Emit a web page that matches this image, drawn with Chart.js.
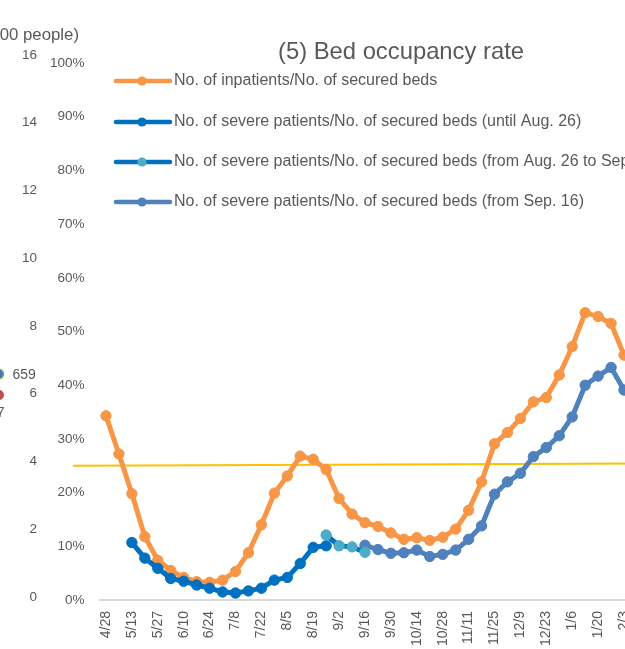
<!DOCTYPE html>
<html><head><meta charset="utf-8">
<script src="https://cdn.jsdelivr.net/npm/chart.js@4.4.1/dist/chart.umd.min.js"></script>
<style>
html,body{margin:0;padding:0;overflow:hidden;background:#fff;width:625px;height:649px}
#wrap{position:absolute;left:0;top:0;width:640px;height:649px}
</style>
</head><body><div id="wrap"><canvas id="c" width="640" height="649"></canvas></div>
<script>
// ---- data ----
const weeks = ['4/28','5/6','5/13','5/20','5/27','6/3','6/10','6/17','6/24','7/1','7/8','7/15','7/22','7/29','8/5','8/12','8/19','8/26','9/2','9/9','9/16','9/23','9/30','10/7','10/14','10/21','10/28','11/4','11/11','11/18','11/25','12/2','12/9','12/16','12/23','12/30','1/6','1/13','1/20','1/27','2/3'];

const inpatientsRate = [34.3,27.2,19.8,11.8,7.4,5.5,4.2,3.4,3.3,3.7,5.3,8.8,14.0,19.9,23.1,26.8,26.2,24.3,18.9,16.0,14.4,13.7,12.5,11.3,11.6,11.1,11.7,13.2,16.7,22.0,29.1,31.2,33.8,36.9,37.7,41.9,47.2,53.5,52.8,51.5,45.6];

const severeUntilAug26 = [null,null,10.7,7.8,5.9,4.0,3.5,2.8,2.2,1.5,1.3,1.7,2.2,3.7,4.2,6.8,9.8,10.1,
  null,null,null,null,null,null,null,null,null,null,null,null,null,null,null,null,null,null,null,null,null,null,null];

const severeAug26toSep16 = [null,null,null,null,null,null,null,null,null,null,null,null,null,null,null,null,null,
  12.1,10.1,9.9,8.9,
  null,null,null,null,null,null,null,null,null,null,null,null,null,null,null,null,null,null,null,null];

const severeFromSep16 = [null,null,null,null,null,null,null,null,null,null,null,null,null,null,null,null,null,null,null,null,
  10.2,9.4,8.7,8.8,9.3,8.1,8.5,9.3,11.3,13.8,19.7,22.0,23.6,26.7,28.4,30.6,34.1,40.0,41.7,43.3,39.1];

const seriesNames = [
  'No. of inpatients/No. of secured beds',
  'No. of severe patients/No. of secured beds (until Aug. 26)',
  'No. of severe patients/No. of secured beds (from Aug. 26 to Sep. 16)',
  'No. of severe patients/No. of secured beds (from Sep. 16)'
];
const pctTicks = [0,10,20,30,40,50,60,70,80,90,100];
const peopleTicks = [0,2,4,6,8,10,12,14,16];
const thresholdLine = [25.0, 25.4];   // % at left and right ends
const chartTitle = '(5) Bed occupancy rate';
const peopleAxisTitle = '(100 people)';
const sideLabels = ['659', '7'];

// ---- styles ----
const FONT = "'Liberation Sans', Arial, sans-serif";
const TXT = '#595959';
const C_ORANGE = '#F79646', C_DBLUE = '#0070C0', C_TEAL = '#4BACC6', C_STEEL = '#4F81BD';

function ds(label, data, line, pt, order){
  return {label, data, borderColor: line, backgroundColor: pt, pointBackgroundColor: pt,
    pointBorderColor: pt, borderWidth: 5, pointRadius: 5.2, pointBorderWidth: 1,
    pointHoverRadius: 5.2, tension: 0, spanGaps: false, yAxisID: 'yPct', order};
}

const decor = {
  id: 'decor',
  beforeDatasetsDraw(chart){
    const ctx = chart.ctx, y = chart.scales.yPct;
    ctx.save();
    ctx.strokeStyle = '#FFC000'; ctx.lineWidth = 2;
    ctx.beginPath();
    ctx.moveTo(73, y.getPixelForValue(thresholdLine[0]));
    ctx.lineTo(chart.width, y.getPixelForValue(thresholdLine[1]));
    ctx.stroke();
    ctx.restore();
  },
  afterDraw(chart){
    const ctx = chart.ctx;
    ctx.save();
    // title
    ctx.fillStyle = TXT; ctx.textAlign = 'center'; ctx.textBaseline = 'middle';
    ctx.font = `23.8px ${FONT}`;
    ctx.fillText(chartTitle, 401, 52);
    // axis title of the left (people) axis
    ctx.textAlign = 'right'; ctx.font = `16.8px ${FONT}`;
    ctx.fillText(peopleAxisTitle, 79, 35);
    // fragments of the neighbouring chart
    ctx.font = `14px ${FONT}`; ctx.textAlign = 'left';
    ctx.fillText(sideLabels[0], 12.5, 375);
    ctx.textAlign = 'right';
    ctx.fillText(sideLabels[1], 4.5, 413);
    ctx.beginPath(); ctx.arc(-1, 374, 4.5, 0, Math.PI*2);
    ctx.fillStyle = '#4472C4'; ctx.fill(); ctx.strokeStyle = '#70AD47'; ctx.lineWidth = 1.5; ctx.stroke();
    ctx.beginPath(); ctx.arc(-1, 395, 5, 0, Math.PI*2);
    ctx.fillStyle = '#C0504D'; ctx.fill();
    // legend
    const rows = [81, 122, 162, 202];
    chart.data.datasets.forEach((d, i) => {
      const yy = rows[i];
      ctx.strokeStyle = d.borderColor; ctx.lineWidth = 4.5; ctx.lineCap = 'round';
      ctx.beginPath(); ctx.moveTo(116, yy); ctx.lineTo(170, yy); ctx.stroke();
      ctx.beginPath(); ctx.arc(142, yy, 4.6, 0, Math.PI*2);
      ctx.fillStyle = d.pointBackgroundColor; ctx.fill();
      ctx.fillStyle = TXT; ctx.font = `16px ${FONT}`; ctx.textAlign = 'left'; ctx.textBaseline = 'middle';
      ctx.fillText(d.label, 174, yy);
    });
    ctx.restore();
  }
};

new Chart(document.getElementById('c'), {
  type: 'line',
  data: {
    labels: weeks,
    datasets: [
      ds(seriesNames[0], inpatientsRate, C_ORANGE, C_ORANGE, 4),
      ds(seriesNames[1], severeUntilAug26, C_DBLUE, C_DBLUE, 3),
      ds(seriesNames[2], severeAug26toSep16, C_DBLUE, C_TEAL, 1),
      ds(seriesNames[3], severeFromSep16, C_STEEL, C_STEEL, 2)
    ]
  },
  options: {
    responsive: false, animation: false, devicePixelRatio: 1, events: [],
    layout: {padding: {top: 63, left: 0, right: 9.5, bottom: 0}},
    plugins: {legend: {display: false}, tooltip: {enabled: false}, title: {display: false}},
    scales: {
      x: {
        type: 'category', offset: true,
        grid: {display: false, drawTicks: false},
        border: {display: true, color: '#D9D9D9', width: 2},
        ticks: {autoSkip: false, minRotation: 90, maxRotation: 90, padding: 11,
          color: TXT, font: {family: FONT, size: 14},
          callback: (v, i) => (i % 2 === 0 ? weeks[i] : '')},
        afterFit: s => { s.height = 49; s.paddingLeft = 0; s.paddingRight = 0; }
      },
      yPct: {
        type: 'linear', position: 'left', weight: 0, min: 0, max: 100,
        grid: {display: false, drawTicks: false}, border: {display: false},
        afterBuildTicks: s => { s.ticks = pctTicks.map(v => ({value: v})); },
        ticks: {padding: 15, color: TXT, font: {family: FONT, size: 13.5}, callback: v => v + '%'},
        afterFit: s => { s.width = 55; s.paddingTop = 0; s.paddingBottom = 0; }
      },
      yPeople: {
        type: 'linear', position: 'left', weight: 1, min: -0.089, max: 15.76,
        grid: {display: false, drawTicks: false}, border: {display: false},
        afterBuildTicks: s => { s.ticks = peopleTicks.map(v => ({value: v})); },
        ticks: {padding: 7.5, color: TXT, font: {family: FONT, size: 13.5}},
        afterFit: s => { s.width = 44.5; s.paddingTop = 0; s.paddingBottom = 0; }
      }
    }
  },
  plugins: [decor]
});
</script>
</body></html>
